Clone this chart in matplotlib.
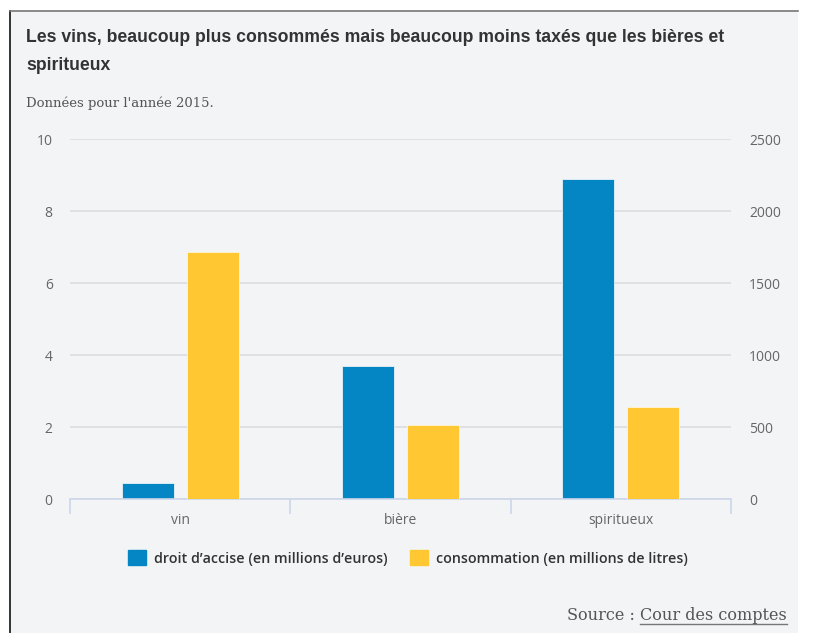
import matplotlib.pyplot as plt
import matplotlib.patches as mpatches
from matplotlib.lines import Line2D
import numpy as np

# data (2015)
categories = ["vin", "bière", "spiritueux"]
accise = [0.46, 3.70, 8.90]          # millions d'euros (left axis)
consommation = [1717, 516, 639]      # millions de litres (right axis)
left_ticks = [0, 2, 4, 6, 8, 10]
right_ticks = [0, 500, 1000, 1500, 2000, 2500]

BLUE = "#0386c3"
YELLOW = "#ffc832"
PANEL = "#f3f4f6"
GRID = "#d9dbde"
AXIS = "#ccd6eb"

W, H = 822, 633
fig = plt.figure(figsize=(W / 100, H / 100), dpi=100, facecolor="white")

def fx(px):
    return px / W

def fy(py):
    return 1 - py / H

# grey card behind the chart
fig.patches.append(mpatches.Rectangle((fx(10), 0), fx(798) - fx(10), fy(11), transform=fig.transFigure,
                                      facecolor=PANEL, edgecolor="none", zorder=-5))
fig.add_artist(Line2D([fx(10), fx(10)], [0, fy(11)], transform=fig.transFigure, color="#111111", lw=1.2))
fig.add_artist(Line2D([fx(10), fx(798)], [fy(11), fy(11)], transform=fig.transFigure, color="#777777", lw=1.2))

# title / subtitle
fig.text(fx(26), fy(38), "Les vins, beaucoup plus consommés mais beaucoup moins taxés que les bières et",
         fontsize=12.7, fontweight="bold", family="Liberation Sans", color="#333333", va="center")
fig.text(fx(26), fy(66), "spiritueux", fontsize=12.7, fontweight="bold", family="Liberation Sans",
         color="#333333", va="center")
fig.text(fx(26), fy(103), "Données pour l'année 2015.", fontsize=9.5, family="DejaVu Serif",
         color="#555555", va="center")

ax = fig.add_axes([fx(70), fy(499.3), fx(731) - fx(70), fy(139.3) - fy(499.3)])
ax.patch.set_alpha(0)
ax2 = ax.twinx()

x = np.arange(len(categories))
bw = 0.236
ax.bar(x - 0.147, accise, bw, color=BLUE, edgecolor="#e8f2f8", linewidth=0.6, zorder=3)
ax2.bar(x + 0.148, consommation, bw, color=YELLOW, edgecolor="#fff4d6", linewidth=0.6, zorder=3)

ax.set_xlim(-0.5, 2.5)
ax.set_ylim(0, 10)
ax2.set_ylim(0, 2500)
ax.set_yticks(left_ticks)
ax2.set_yticks(right_ticks)
ax.grid(axis="y", color=GRID, lw=1.1, zorder=0)

for a in (ax, ax2):
    for s in a.spines.values():
        s.set_visible(False)
ax.spines["bottom"].set_visible(True)
ax.spines["bottom"].set_color(AXIS)
ax.spines["bottom"].set_linewidth(1.2)
ax.spines["bottom"].set_zorder(4)

# category boundary ticks + labels in the middle
ax.set_xticks([-0.5, 0.5, 1.5, 2.5])
ax.set_xticklabels([])
ax.tick_params(axis="x", which="major", length=11, color=AXIS, width=1.2)
ax.set_xticks(x, minor=True)
ax.set_xticklabels(categories, minor=True)
ax.tick_params(axis="x", which="minor", length=0, pad=10, labelsize=10, labelcolor="#666666")

ax.tick_params(axis="y", length=0, pad=12.5, labelsize=10, labelcolor="#666666")
ax2.tick_params(axis="y", length=0, pad=13, labelsize=10, labelcolor="#666666")
for lab in ax.get_xticklabels(minor=True) + ax.get_yticklabels() + ax2.get_yticklabels():
    lab.set_family("Open Sans")

# legend
handles = [mpatches.Patch(color=BLUE, label="droit d\u2019accise (en millions d\u2019euros)"),
           mpatches.Patch(color=YELLOW, label="consommation (en millions de litres)")]
fig.legend(handles=handles, loc="center", bbox_to_anchor=(fx(408), fy(558)), ncol=2, frameon=False,
           handlelength=1.25, handleheight=1.25, handletextpad=0.55, columnspacing=1.6,
           prop={"family": "Open Sans", "weight": "semibold", "size": 10.3}, labelcolor="#333333")

# source with underlined link
t2 = fig.text(fx(787), fy(616), "Cour des comptes", fontsize=11.6, family="DejaVu Serif",
              color="#555555", ha="right", va="center")
fig.canvas.draw()
bb = t2.get_window_extent()
fig.text(bb.x0 / W - fx(5), fy(616), "Source :", fontsize=11.6, family="DejaVu Serif",
         color="#555555", ha="right", va="center")
fig.add_artist(Line2D([bb.x0 / W, bb.x1 / W], [bb.y0 / H + 0.001, bb.y0 / H + 0.001],
                      transform=fig.transFigure, color="#777777", lw=1))

fig.savefig("out.png", dpi=100, facecolor="white")
